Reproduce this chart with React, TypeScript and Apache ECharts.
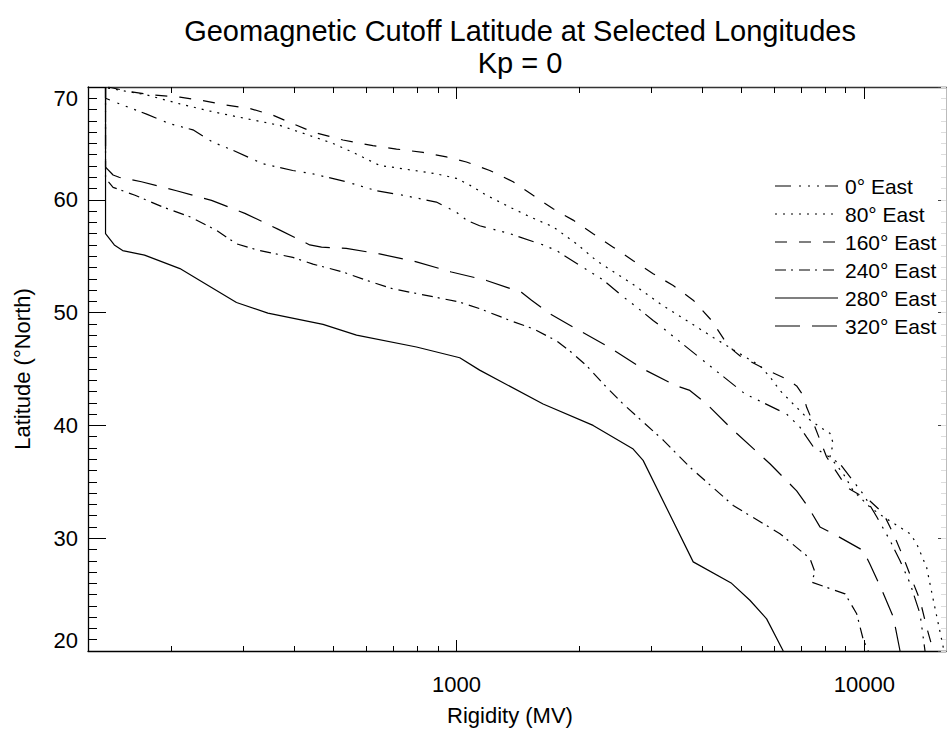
import React, { useEffect, useRef } from 'react';
import * as echarts from 'echarts';

// ---------- Data (rigidity in MV, latitude in degrees North) ----------
const LEGEND_NAMES = ['0° East', '80° East', '160° East', '240° East', '280° East', '320° East'];

const R_0E = [138, 138, 152, 174, 198, 226, 253, 283, 335, 397, 445, 537, 637, 740, 893, 1000, 1058, 1140, 1351, 1631, 1759, 2044, 2288, 2562, 2763, 3035, 3152, 4026, 5094, 6449, 6950, 7219, 7494, 8711, 9938, 10720, 11555, 12229, 12940, 13690, 14080];
const LAT_0E = [70, 69, 68.4, 67.6, 66.75, 66.2, 65.1, 64.4, 63.2, 62.6, 62.3, 61.6, 60.8, 60.4, 59.8, 58.9, 58.2, 57.7, 57, 56, 55.5, 54, 52.9, 51.4, 50.5, 49.3, 48.85, 45.75, 42.8, 41, 39.85, 38.96, 38.1, 36.6, 33.9, 31.9, 29.8, 28, 26, 23.3, 20];

const R_80E = [140, 174, 210, 253, 305, 369, 445, 498, 558, 648, 740, 893, 1000, 1078, 1185, 1351, 1513, 1726, 1970, 2205, 2468, 2763, 3152, 4260, 4954, 5545, 5868, 6209, 6692, 7219, 7782, 8232, 8387, 8232, 8881, 9393, 10320, 11128, 12940, 13437, 14212, 14757, 15613, 15920];
const LAT_80E = [69.9, 69.3, 68.5, 67.8, 67.2, 66.6, 65.6, 65, 64.2, 63.05, 62.75, 62.3, 61.9, 61.3, 60.4, 59.35, 58.5, 57.6, 56.1, 54.6, 53.45, 52.3, 50.8, 47.8, 46.35, 45.3, 44.3, 43.1, 41.9, 40.7, 39.85, 39.3, 38.4, 37.2, 35.7, 34.2, 32.75, 31.9, 30.4, 29.5, 27.4, 24.5, 20.3, 20];

const R_160E = [140, 158, 180, 210, 239, 273, 311, 355, 397, 445, 527, 624, 713, 828, 945, 1058, 1207, 1377, 1541, 1726, 1932, 2163, 2422, 2712, 3035, 3399, 3805, 4222, 4550, 4770, 5002, 5705, 6449, 6823, 7081, 7219, 7565, 8080, 9050, 10320, 11128, 11775, 12460, 13183, 13690, 14212, 14757];
const LAT_160E = [70, 69.6, 69.3, 69.1, 68.8, 68.4, 68.1, 67.5, 66.75, 66, 65.3, 64.8, 64.5, 64.2, 63.8, 63.35, 62.6, 61.6, 60.4, 59.2, 58.2, 57, 55.8, 54.6, 53.45, 52.4, 51.1, 49.3, 47.5, 46.65, 46.05, 45, 44.1, 43.5, 42.66, 41.6, 39.85, 37.2, 34.5, 33.3, 32.2, 30.4, 28.3, 26, 24.5, 22.1, 20];

const R_240E = [138, 138, 144, 152, 163, 191, 222, 258, 289, 329, 397, 445, 527, 602, 699, 798, 1019, 1140, 1377, 1541, 1759, 1896, 2084, 2288, 2562, 2868, 3212, 3734, 4770, 6209, 7356, 7565, 7426, 8965, 9575, 9938, 10223];
const LAT_240E = [70, 61.9, 61.1, 60.8, 60.4, 59.35, 58.5, 57.3, 56.1, 55.5, 54.9, 54.3, 53.6, 52.86, 52.1, 51.7, 50.93, 50.35, 49.2, 48.57, 47.5, 46.6, 45.3, 43.7, 41.9, 40.3, 38.7, 36.3, 32.9, 30.4, 28.2, 27, 26.1, 25.07, 23.3, 21, 20];

const R_280E = [138, 138, 145, 152, 172, 210, 235, 289, 345, 471, 569, 798, 1019, 1140, 1631, 2163, 2712, 2868, 3805, 4726, 5240, 5759, 6325];
const LAT_280E = [70, 57, 56, 55.5, 55.1, 53.9, 52.85, 50.9, 49.95, 48.95, 48, 46.95, 46, 44.9, 41.9, 40, 37.9, 36.9, 27.9, 26, 24.5, 22.85, 20];

const R_320E = [138, 138, 144, 149, 169, 206, 251, 303, 365, 437, 467, 537, 648, 798, 972, 1185, 1443, 1528, 1693, 2026, 2400, 2868, 3464, 3734, 4104, 4726, 5868, 6823, 7286, 7782, 8387, 9938, 10320, 11128, 11775, 12229];
const LAT_320E = [70, 62.9, 62.2, 62, 61.6, 60.8, 59.95, 58.8, 57.4, 56, 55.8, 55.7, 55.2, 54.5, 53.6, 52.85, 51.8, 51.1, 49.9, 48.3, 46.8, 45, 43.5, 43.1, 41.9, 39.7, 36.6, 34.2, 32.75, 31, 30.4, 28.9, 27.7, 25.1, 23, 20];

const X_MIN_MV = 125;
const X_MAX_MV = 15850;
const X_MAJOR_TICKS = [1000, 10000];
const X_MINOR_TICKS = [200, 300, 400, 500, 600, 700, 800, 900, 2000, 3000, 4000, 5000, 6000, 7000, 8000, 9000];
const Y_MIN = 20;
const Y_MAX = 70;

// ---------- Styles ----------
const FONT = '"Liberation Sans", Arial, Helvetica, sans-serif';
const DASHES: (number[] | null)[] = [
  [16, 8, 2, 7, 2, 7, 2, 6], // dash dot dot dot
  [2, 6], // dotted
  [12, 12], // dashed
  [11, 5, 2, 6], // dash dot
  null, // solid
  [25, 12], // long dashes
];
const SERIES_R = [R_0E, R_80E, R_160E, R_240E, R_280E, R_320E];
const SERIES_LAT = [LAT_0E, LAT_80E, LAT_160E, LAT_240E, LAT_280E, LAT_320E];

// legend layout
const LEG_X0 = 775;
const LEG_X1 = 838;
const LEG_TEXT_X = 845;
const LEG_Y0 = 186;
const LEG_DY = 28;

const lg = (v: number) => Math.log10(v);

function buildOption() {
  const xMin = lg(X_MIN_MV);
  const xMax = lg(X_MAX_MV);
  const major = X_MAJOR_TICKS.map(lg);
  const minor = X_MINOR_TICKS.map(lg);
  const black = '#000';

  const xBase = {
    type: 'value',
    min: xMin,
    max: xMax,
    gridIndex: 0,
    splitLine: { show: false },
  };
  const yBase = {
    type: 'value',
    min: Y_MIN,
    max: Y_MAX,
    gridIndex: 0,
    splitLine: { show: false },
  };

  const series = SERIES_R.map((rs, i) => ({
    name: LEGEND_NAMES[i],
    type: 'line',
    xAxisIndex: 0,
    yAxisIndex: 0,
    data: rs.map((r, j) => [lg(r), SERIES_LAT[i][j]]),
    symbol: 'none',
    showSymbol: false,
    clip: true,
    lineStyle: { color: black, width: 1.2, type: DASHES[i] || 'solid' },
    itemStyle: { color: black },
    emphasis: { disabled: true },
  }));

  const legendGraphics: any[] = [];
  LEGEND_NAMES.forEach((name, i) => {
    const y = LEG_Y0 + i * LEG_DY;
    legendGraphics.push({
      type: 'line',
      shape: { x1: LEG_X0, y1: y, x2: LEG_X1, y2: y },
      style: { stroke: black, lineWidth: 1.2, lineDash: DASHES[i] || null },
      silent: true,
    });
    legendGraphics.push({
      type: 'text',
      x: LEG_TEXT_X,
      y: y,
      silent: true,
      style: {
        text: name,
        align: 'left',
        verticalAlign: 'middle',
        textAlign: 'left',
        textVerticalAlign: 'middle',
        fontSize: 21,
        fontFamily: FONT,
        fill: black,
      },
    });
  });

  return {
    animation: false,
    backgroundColor: '#fff',
    textStyle: { fontFamily: FONT, color: black },
    grid: { left: 88, right: 2, top: 87, bottom: 81, containLabel: false },
    graphic: [
      {
        type: 'text',
        x: 520,
        y: 31,
        silent: true,
        style: {
          text: 'Geomagnetic Cutoff Latitude at Selected Longitudes',
          align: 'center',
          verticalAlign: 'middle',
          textAlign: 'center',
          textVerticalAlign: 'middle',
          fontSize: 29,
          fontFamily: FONT,
          fill: black,
        },
      },
      {
        type: 'text',
        x: 520,
        y: 63,
        silent: true,
        style: {
          text: 'Kp = 0',
          align: 'center',
          verticalAlign: 'middle',
          textAlign: 'center',
          textVerticalAlign: 'middle',
          fontSize: 29,
          fontFamily: FONT,
          fill: black,
        },
      },
      ...legendGraphics,
    ],
    xAxis: [
      {
        ...xBase,
        position: 'bottom',
        name: 'Rigidity (MV)',
        nameLocation: 'middle',
        nameGap: 53,
        nameTextStyle: { fontSize: 22, color: black, fontFamily: FONT, padding: [0, 14, 0, 0] },
        axisLine: { show: true, lineStyle: { color: black, width: 1.3 } },
        axisTick: { show: true, inside: true, length: 11, customValues: major, lineStyle: { color: black, width: 1 } },
        axisLabel: {
          show: true,
          customValues: major,
          margin: 22,
          fontSize: 22,
          color: black,
          fontFamily: FONT,
          formatter: (v: number) => String(Math.round(Math.pow(10, v))),
        },
      },
      {
        ...xBase,
        position: 'bottom',
        axisLine: { show: false },
        axisTick: { show: true, inside: true, length: 5, customValues: minor, lineStyle: { color: black, width: 1 } },
        axisLabel: { show: false },
      },
      {
        ...xBase,
        position: 'top',
        axisLine: { show: true, lineStyle: { color: '#333', width: 1.3 } },
        axisTick: { show: true, inside: true, length: 12, customValues: major, lineStyle: { color: black, width: 1 } },
        axisLabel: { show: false },
      },
      {
        ...xBase,
        position: 'top',
        axisLine: { show: false },
        axisTick: { show: true, inside: true, length: 6, customValues: minor, lineStyle: { color: black, width: 1 } },
        axisLabel: { show: false },
      },
    ],
    yAxis: [
      {
        ...yBase,
        position: 'left',
        interval: 10,
        name: 'Latitude (°North)',
        nameLocation: 'middle',
        nameGap: 55,
        nameTextStyle: { fontSize: 22, color: black, fontFamily: FONT },
        axisLine: { show: true, lineStyle: { color: black, width: 1.3 } },
        axisTick: { show: true, inside: true, length: 18, lineStyle: { color: black, width: 1 } },
        axisLabel: {
          show: true,
          margin: 10,
          fontSize: 22,
          color: black,
          fontFamily: FONT,
          verticalAlignMinLabel: 'bottom',
          verticalAlignMaxLabel: 'top',
        },
      },
      {
        ...yBase,
        position: 'left',
        interval: 1,
        axisLine: { show: false },
        axisTick: { show: true, inside: true, length: 9, lineStyle: { color: black, width: 1 } },
        axisLabel: { show: false },
      },
      {
        ...yBase,
        position: 'right',
        interval: 10,
        axisLine: { show: true, lineStyle: { color: '#bbb', width: 1 } },
        axisTick: { show: true, inside: true, length: 8, lineStyle: { color: '#444', width: 1 } },
        axisLabel: { show: false },
      },
      {
        ...yBase,
        position: 'right',
        interval: 1,
        axisLine: { show: false },
        axisTick: { show: true, inside: true, length: 5, lineStyle: { color: '#ddd', width: 1 } },
        axisLabel: { show: false },
      },
    ],
    series,
  };
}

export default function App() {
  const ref = useRef<HTMLDivElement>(null);
  useEffect(() => {
    document.body.style.margin = '0';
    if (!ref.current) return;
    const chart = echarts.init(ref.current, null, { renderer: 'svg', width: 948, height: 732 });
    chart.setOption(buildOption() as any);
    return () => {
      chart.dispose();
    };
  }, []);
  return <div ref={ref} style={{ width: 948, height: 732, background: '#fff' }} />;
}
